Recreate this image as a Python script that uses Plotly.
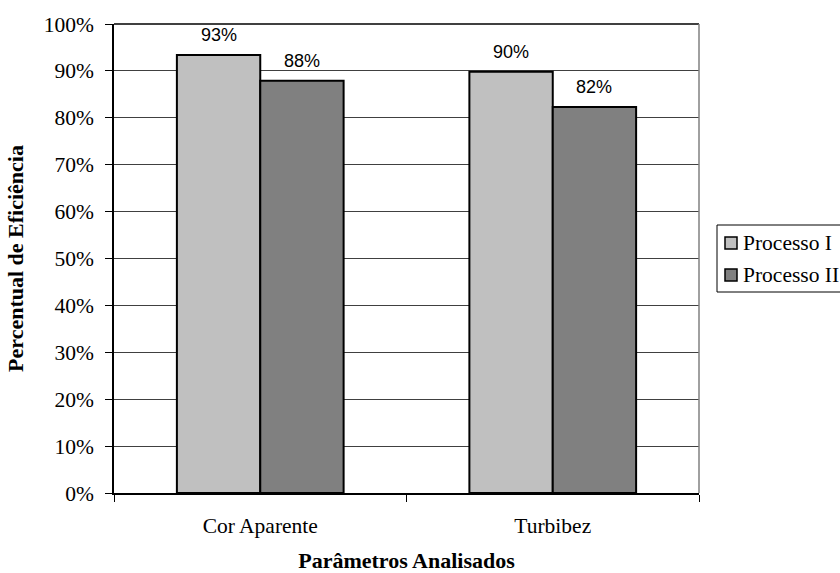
import plotly.graph_objects as go

# Parâmetros analisados e eficiência de cada processo
parametros = ["Cor Aparente", "Turbibez"]
processo_1 = [0.934, 0.898]
processo_2 = [0.879, 0.823]
series_nomes = ["Processo I", "Processo II"]
cores = ["#C0C0C0", "#808080"]

serif = "Liberation Serif, Times New Roman, serif"
sans = "Liberation Sans, Arial, sans-serif"

fig = go.Figure()
for nome, valores, cor in zip(series_nomes, [processo_1, processo_2], cores):
    fig.add_trace(go.Bar(
        x=parametros,
        y=valores,
        name=nome,
        marker=dict(color=cor, line=dict(color="black", width=2)),
        showlegend=False,
    ))

# Rótulos de valor acima de cada barra
desloc = [-41.5, 41.5]
for valores, dx in zip([processo_1, processo_2], desloc):
    for cat, v in zip(parametros, valores):
        fig.add_annotation(
            x=cat, y=v, xref="x", yref="y",
            text=f"{v:.0%}", showarrow=False,
            xshift=dx, yshift=20,
            font=dict(family=sans, size=18, color="black"),
        )

fig.update_layout(
    width=840,
    height=573,
    margin=dict(l=114, r=141, t=24, b=80),
    paper_bgcolor="white",
    plot_bgcolor="white",
    barmode="group",
    bargap=0.43,
    bargroupgap=0,
    font=dict(family=serif, color="black"),
)

# Legenda: caixa com amostra de cor e nome de cada série
W, H = 840, 573
fig.add_shape(type="rect", xref="paper", yref="paper",
              x0=(717 - 114) / 585, x1=(845 - 114) / 585,
              y0=(493 - 292) / 469, y1=(493 - 225) / 469,
              line=dict(color="black", width=1), fillcolor="white")
for i, (nome, cor) in enumerate(zip(series_nomes, cores)):
    yc = 243 + 32 * i
    fig.add_shape(type="rect", xref="paper", yref="paper",
                  x0=(725 - 114) / 585, x1=(737 - 114) / 585,
                  y0=(493 - yc - 6) / 469, y1=(493 - yc + 6) / 469,
                  line=dict(color="black", width=1.5), fillcolor=cor)
    fig.add_annotation(xref="paper", yref="paper",
                       x=(741 - 114) / 585, y=(493 - yc) / 469,
                       xanchor="left", yanchor="middle", showarrow=False,
                       text=nome, font=dict(family=serif, size=21.5, color="black"))

fig.update_xaxes(
    showline=True, linecolor="black", linewidth=1.5,
    ticks="outside", tickson="boundaries", ticklen=7, tickcolor="black",
    ticklabelstandoff=12,
    tickfont=dict(family=serif, size=21.5, color="black"),
    title=dict(text="<b>Parâmetros Analisados</b>",
               font=dict(family=serif, size=22, color="black"), standoff=20),
    showgrid=False,
    automargin=False,
)

fig.update_yaxes(
    range=[0, 1], dtick=0.1, tickformat=".0%",
    showline=True, linecolor="black", linewidth=1.5,
    ticks="outside", ticklen=7, tickcolor="black",
    ticklabelstandoff=7,
    showgrid=True, gridcolor="#404040", gridwidth=1,
    zeroline=False,
    tickfont=dict(family=serif, size=21.5, color="black"),
    title=dict(text="<b>Percentual de Eficiência</b>",
               font=dict(family=serif, size=22, color="black"), standoff=14),
    automargin=False,
)

# Borda superior e direita da área do gráfico
fig.add_shape(type="line", xref="paper", yref="paper", x0=0, x1=1, y0=1, y1=1,
              line=dict(color="black", width=1.5))
fig.add_shape(type="line", xref="paper", yref="paper", x0=1, x1=1, y0=0, y1=1,
              line=dict(color="#808080", width=1.5))

fig.write_html("out.html")
